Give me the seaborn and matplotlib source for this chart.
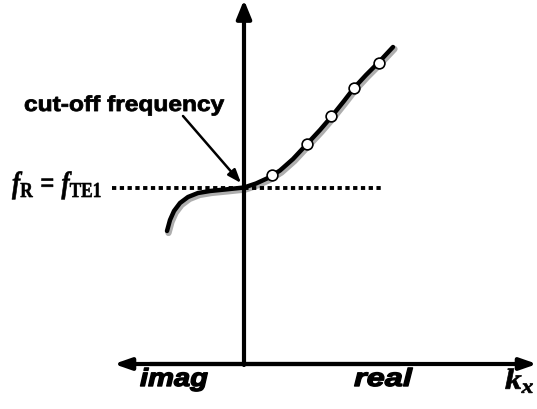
import matplotlib
matplotlib.use("Agg")
import matplotlib.pyplot as plt
import seaborn as sns
import pandas as pd
from matplotlib.patheffects import AbstractPathEffect
from matplotlib.transforms import Affine2D

sns.set_style("white")
plt.rcParams["text.color"] = "black"
plt.rcParams["mathtext.fontset"] = "custom"
plt.rcParams["mathtext.rm"] = "Liberation Serif:bold"
plt.rcParams["mathtext.it"] = "Liberation Serif:bold:italic"
plt.rcParams["mathtext.bf"] = "Liberation Serif:bold"

# dispersion curve (canvas units: x to the right, y downward)
curve_x = [167, 170, 174, 180, 188, 198, 210, 225, 244, 256, 268, 280, 293, 307, 320, 332, 344, 354, 366, 379, 393]
curve_y = [231, 220, 211, 203, 197, 193, 191, 189.5, 187.5, 183.5, 178, 170.5, 159, 144, 130, 116, 101, 88, 75, 62, 47]

# sampled mode points on the real branch
mark_x = [272, 307, 331, 354, 378.5]
mark_y = [175, 143.5, 115.5, 87.5, 63]

W, H = 537, 409
fig = plt.figure(figsize=(W / 100, H / 100), dpi=100)
ax = fig.add_axes([0, 0, 1, 1])
ax.set_xlim(0, W)
ax.set_ylim(H, 0)
ax.axis("off")


class HStretch(AbstractPathEffect):
    """Widen glyphs horizontally about the text's left baseline origin,
    optionally thickening them with an outline of the same colour."""

    def __init__(self, sx, weight=0.0):
        super().__init__()
        self.sx = sx
        self.weight = weight

    def draw_path(self, renderer, gc, tpath, affine, rgbFace=None):
        gc0 = renderer.new_gc()
        gc0.copy_properties(gc)
        if self.weight > 0:
            gc0.set_linewidth(self.weight)
            gc0.set_foreground(rgbFace if rgbFace is not None else "black")
            gc0.set_joinstyle("round")
        renderer.draw_path(gc0, tpath, Affine2D().scale(self.sx, 1) + affine, rgbFace)
        gc0.restore()


renderer = fig.canvas.get_renderer()


def wide_text(x, y, s, width, weight=0.0, **kw):
    t = ax.text(x, y, s, ha="left", va="baseline", color="black", **kw)
    w = t.get_window_extent(renderer).width
    t.set_path_effects([HStretch(width / w, weight)])
    return t


curve = pd.DataFrame({"x": curve_x, "y": curve_y})
marks = pd.DataFrame({"x": mark_x, "y": mark_y})

# soft grey shadow under the curve
shadow = curve.assign(x=curve["x"] + 1.5, y=curve["y"] + 2)
sns.lineplot(data=shadow, x="x", y="y", ax=ax, color="#9a9a9a", lw=4.5, sort=False, estimator=None, alpha=0.8)
sns.lineplot(data=curve, x="x", y="y", ax=ax, color="black", lw=3.2, sort=False, estimator=None,
             solid_capstyle="round")
sns.scatterplot(data=marks, x="x", y="y", ax=ax, s=60, color="white", edgecolor="black", linewidth=1.2, zorder=5)

# axes arrows
ax.annotate("", xy=(244, 0), xytext=(244, 365),
            arrowprops=dict(arrowstyle="-|>,head_width=0.45,head_length=1.1", lw=3, color="black",
                            shrinkA=0, shrinkB=0))
ax.annotate("", xy=(537, 364), xytext=(150, 364),
            arrowprops=dict(arrowstyle="-|>,head_width=0.35,head_length=1.0", lw=3, color="black",
                            shrinkA=0, shrinkB=0))
ax.annotate("", xy=(114, 364), xytext=(400, 364),
            arrowprops=dict(arrowstyle="-|>,head_width=0.35,head_length=1.0", lw=3, color="black",
                            shrinkA=0, shrinkB=0))

# cut-off frequency level
ax.plot([112, 384], [187.5, 187.5], color="black", lw=2.8, ls=(0, (1.1, 0.9)))

ax.annotate("", xy=(241, 183), xytext=(183, 116),
            arrowprops=dict(arrowstyle="-|>,head_width=0.3,head_length=0.8", lw=1.8, color="black",
                            shrinkA=0, shrinkB=0))

wide_text(24, 111, "cut-off frequency", 201, weight=0.6, fontsize=15.5, fontweight="bold",
          family="Liberation Sans")
wide_text(12, 193, r"$f_{\mathrm{R}}\,\mathrm{=}\,f_{\mathrm{TE1}}$", 90, weight=0.4, fontsize=22)

wide_text(140, 386, "imag", 68, weight=1.0, fontsize=18, fontweight="bold", style="italic",
          family="Liberation Sans")
wide_text(354, 386, "real", 58, weight=1.0, fontsize=18, fontweight="bold", style="italic",
          family="Liberation Sans")
wide_text(505, 389, r"$k_x$", 30, weight=0.5, fontsize=21)

fig.savefig("out.png", dpi=100)
